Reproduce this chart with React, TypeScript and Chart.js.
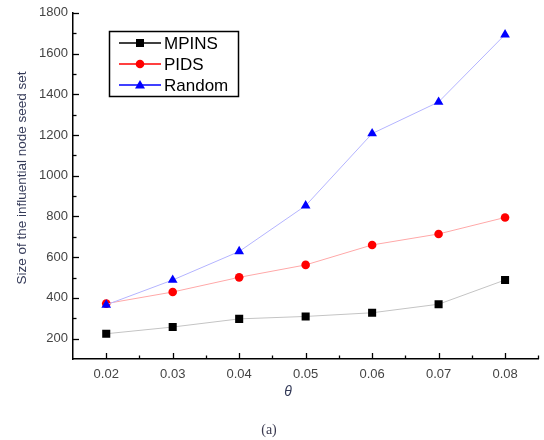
import React, { useEffect, useRef } from "react";
import { Chart, registerables } from "chart.js";

Chart.register(...registerables);

const thetaValues = [0.02, 0.03, 0.04, 0.05, 0.06, 0.07, 0.08];
const mpinsValues = [224, 257, 297, 309, 327, 369, 488];
const pidsValues = [372, 429, 501, 562, 660, 714, 795];
const randomValues = [366, 488, 628, 853, 1207, 1362, 1693];

const xMajorTicks = [0.02, 0.03, 0.04, 0.05, 0.06, 0.07, 0.08];
const xMinorTicks = [0.025, 0.035, 0.045, 0.055, 0.065, 0.075, 0.085];
const yMajorTicks = [200, 400, 600, 800, 1000, 1200, 1400, 1600, 1800];
const yMinorTicks = [300, 500, 700, 900, 1100, 1300, 1500, 1700];

const seriesNames = ["MPINS", "PIDS", "Random"];
const yTitle = "Size of the influential node seed set";
const xTitle = "θ";
const caption = "(a)";

const FONT = "'Liberation Sans', Arial, sans-serif";

const decorPlugin = {
  id: "decor",
  afterDraw(chart: any) {
    const ctx = chart.ctx;
    const xs = chart.scales.x;
    const ys = chart.scales.y;
    const area = chart.chartArea;
    ctx.save();
    ctx.strokeStyle = "#000";
    ctx.lineWidth = 1.3;
    for (const v of yMajorTicks) {
      const p = Math.round(ys.getPixelForValue(v)) + 0.5;
      ctx.beginPath();
      ctx.moveTo(area.left, p);
      ctx.lineTo(area.left + 6, p);
      ctx.stroke();
    }
    for (const v of yMinorTicks) {
      const p = Math.round(ys.getPixelForValue(v)) + 0.5;
      ctx.beginPath();
      ctx.moveTo(area.left, p);
      ctx.lineTo(area.left + 3.5, p);
      ctx.stroke();
    }
    for (const v of xMajorTicks) {
      const p = Math.round(xs.getPixelForValue(v)) + 0.5;
      ctx.beginPath();
      ctx.moveTo(p, area.bottom);
      ctx.lineTo(p, area.bottom - 6);
      ctx.stroke();
    }
    for (const v of xMinorTicks) {
      const p = Math.round(xs.getPixelForValue(v)) + 0.5;
      ctx.beginPath();
      ctx.moveTo(p, area.bottom);
      ctx.lineTo(p, area.bottom - 3.5);
      ctx.stroke();
    }

    // y title
    ctx.fillStyle = "#343a58";
    ctx.font = `13.5px ${FONT}`;
    ctx.textAlign = "center";
    ctx.textBaseline = "middle";
    ctx.save();
    ctx.translate(22, 178);
    ctx.rotate(-Math.PI / 2);
    ctx.fillText(yTitle, 0, 0);
    ctx.restore();

    // x title
    ctx.font = `italic 14px ${FONT}`;
    ctx.fillText(xTitle, 288, 392);

    // caption
    ctx.font = `14px 'Liberation Serif', 'Times New Roman', serif`;
    ctx.fillStyle = "#3a3a50";
    ctx.fillText(caption, 269, 430);

    // legend
    const bx = 109, by = 31, bw = 129, bh = 65;
    ctx.lineWidth = 1.5;
    ctx.strokeStyle = "#000";
    ctx.strokeRect(bx + 0.5, by + 0.5, bw, bh);
    const rows = [43, 64, 85];
    const colors = ["#000000", "#ff0000", "#0000ff"];
    chart.data.datasets.forEach((ds: any, i: number) => {
      const y = rows[i];
      ctx.strokeStyle = colors[i];
      ctx.lineWidth = 1.3;
      ctx.beginPath();
      ctx.moveTo(119, y);
      ctx.lineTo(161, y);
      ctx.stroke();
      ctx.fillStyle = colors[i];
      if (i === 0) {
        ctx.fillRect(136, y - 4, 8, 8);
      } else if (i === 1) {
        ctx.beginPath();
        ctx.arc(140, y, 4.3, 0, Math.PI * 2);
        ctx.fill();
      } else {
        ctx.beginPath();
        ctx.moveTo(140, y - 5);
        ctx.lineTo(145, y + 3.5);
        ctx.lineTo(135, y + 3.5);
        ctx.closePath();
        ctx.fill();
      }
      ctx.fillStyle = "#000";
      ctx.font = `17px ${FONT}`;
      ctx.textAlign = "left";
      ctx.textBaseline = "middle";
      ctx.fillText(ds.label, 164, y + 1);
    });
    ctx.restore();
  },
};

export default function App() {
  const ref = useRef<HTMLCanvasElement>(null);
  useEffect(() => {
    const canvas = ref.current!;
    const mk = (vals: number[]) => thetaValues.map((x, i) => ({ x, y: vals[i] }));
    const chart = new Chart(canvas, {
      type: "line",
      data: {
        datasets: [
          {
            label: seriesNames[0],
            data: mk(mpinsValues),
            borderColor: "#c4c4c4",
            borderWidth: 1,
            pointStyle: "rect",
            pointRadius: 5.7,
            pointBackgroundColor: "#000",
            pointBorderColor: "#000",
            pointBorderWidth: 0,
            order: 3,
          },
          {
            label: seriesNames[1],
            data: mk(pidsValues),
            borderColor: "#ffa8a8",
            borderWidth: 1,
            pointStyle: "circle",
            pointRadius: 4.3,
            pointBackgroundColor: "#ff0000",
            pointBorderColor: "#ff0000",
            pointBorderWidth: 0,
            order: 2,
          },
          {
            label: seriesNames[2],
            data: mk(randomValues),
            borderColor: "#b4b4ff",
            borderWidth: 1,
            pointStyle: "triangle",
            pointRadius: 5.6,
            pointBackgroundColor: "#0000ff",
            pointBorderColor: "#0000ff",
            pointBorderWidth: 0,
            order: 1,
          },
        ],
      },
      options: {
        animation: false,
        responsive: false,
        layout: { padding: { left: 0, right: 3, top: 12, bottom: 0 } },
        plugins: { legend: { display: false }, tooltip: { enabled: false } },
        scales: {
          x: {
            type: "linear",
            min: 0.015,
            max: 0.085,
            afterBuildTicks: (s: any) => {
              s.ticks = xMajorTicks.map((v) => ({ value: v }));
            },
            afterFit: (s: any) => {
              s.height = 81;
            },
            grid: { display: false, drawTicks: false },
            border: { display: true, color: "#000", width: 1.5 },
            ticks: {
              padding: 8,
              color: "#444",
              font: { family: FONT, size: 13 },
              callback: (v: any) => Number(v).toFixed(2),
              maxRotation: 0,
            },
          },
          y: {
            type: "linear",
            min: 100,
            max: 1800,
            afterBuildTicks: (s: any) => {
              s.ticks = yMajorTicks.map((v) => ({ value: v }));
            },
            afterFit: (s: any) => {
              s.width = 73;
            },
            grid: { display: false, drawTicks: false },
            border: { display: true, color: "#000", width: 1.5 },
            ticks: {
              padding: 5,
              color: "#444",
              font: { family: FONT, size: 13 },
              callback: (v: any) => String(v),
            },
          },
        },
      },
      plugins: [decorPlugin],
    });
    return () => chart.destroy();
  }, []);
  return (
    <div style={{ position: "fixed", left: 0, top: 0, width: 544, height: 440, background: "#fff" }}>
      <canvas ref={ref} width={544} height={440} />
    </div>
  );
}
